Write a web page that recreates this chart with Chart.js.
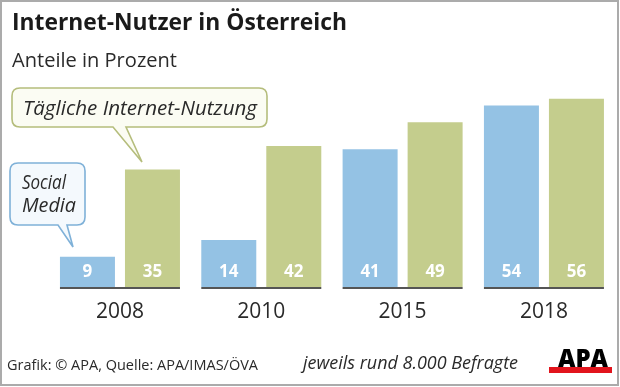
<!DOCTYPE html>
<html>
<head>
<meta charset="utf-8">
<script src="https://cdn.jsdelivr.net/npm/chart.js@4.4.1/dist/chart.umd.min.js"></script>
<style>
  html, body { margin: 0; padding: 0; background: #fff; }
  #frame { position: relative; width: 620px; height: 387px; overflow: hidden; font-family: 'Open Sans', sans-serif; color: #2a2a2a; }
  #frame::after { content: ''; position: absolute; left: 0; top: 0; width: 619px; height: 386px; box-sizing: border-box; border: 2px solid #ababab; pointer-events: none; }
  canvas { position: absolute; left: 0; top: 0; }
  svg { position: absolute; left: 0; top: 0; }
  .t { position: absolute; white-space: nowrap; line-height: 1; transform-origin: 0 0; }
  #title { left: 12px; top: 10.2px; font-size: 23px; font-weight: 700; color: #1a1a1a; }
  #subtitle { left: 12px; top: 49.7px; font-size: 19.5px; }
  #calloutDaily { left: 23px; top: 97.7px; font-size: 19.5px; font-style: italic; }
  #calloutSocial1 { left: 22px; top: 172.2px; font-size: 20px; font-style: italic; }
  #calloutSocial2 { left: 22px; top: 195.2px; font-size: 20px; font-style: italic; }
  #source { left: 7px; top: 357.6px; font-size: 14px; }
  #note { left: 303px; top: 353.3px; font-size: 18px; font-style: italic; }
  #logo { left: 558px; top: 344.5px; font-size: 25px; font-weight: 800; color: #000; }
  #logoBar { position: absolute; left: 549px; top: 367px; width: 63px; height: 5.5px; background: #e2141c; }
</style>
</head>
<body>
<div id="frame">
  <canvas id="chart" width="620" height="387"></canvas>
  <svg width="620" height="387">
    <path d="M20,88 H259 Q267,88 267,96 V119 Q267,127 259,127 H126 L142,162 L113,127 H20 Q12,127 12,119 V96 Q12,88 20,88 Z"
          fill="#fbfcf3" stroke="#b5bd7c" stroke-width="1.6"/>
    <path d="M18,163 H77 Q85,163 85,171 V217 Q85,225 77,225 H67 L73,247 L58,225 H18 Q10,225 10,217 V171 Q10,163 18,163 Z"
          fill="#f4f9fd" stroke="#7fb1d8" stroke-width="1.6"/>
  </svg>
  <div class="t" id="title" data-w="335">Internet-Nutzer in Österreich</div>
  <div class="t" id="subtitle" data-w="165">Anteile in Prozent</div>
  <div class="t" id="calloutDaily" data-w="234">Tägliche Internet-Nutzung</div>
  <div class="t" id="calloutSocial1" data-w="44">Social</div>
  <div class="t" id="calloutSocial2" data-w="54">Media</div>
  <div class="t" id="source" data-w="251">Grafik: © APA, Quelle: APA/IMAS/ÖVA</div>
  <div class="t" id="note" data-w="215">jeweils rund 8.000 Befragte</div>
  <div id="logoBar"></div>
  <div class="t" id="logo" data-w="50">APA</div>
</div>
<script>
const years = ['2008', '2010', '2015', '2018'];
const socialMedia = [9, 14, 41, 54];
const dailyInternet = [35, 42, 49, 56];

const fontFamily = "'Open Sans', sans-serif";

// squeeze text to the width it has in the original graphic
function fitTexts() {
    document.querySelectorAll('.t[data-w]').forEach(el => {
        const target = parseFloat(el.dataset.w);
        const w = el.getBoundingClientRect().width;
        if (w > 0) {
            el.style.transform = `scaleX(${target / w})`;
        }
    });
}

// white value labels at the foot of every bar
const valueLabels = {
    id: 'valueLabels',
    afterDatasetsDraw(chart) {
        const ctx = chart.ctx;
        const zero = chart.scales.y.getPixelForValue(0);
        ctx.save();
        ctx.fillStyle = '#ffffff';
        ctx.font = `700 17px ${fontFamily}`;
        ctx.textAlign = 'center';
        ctx.textBaseline = 'alphabetic';
        chart.data.datasets.forEach((ds, di) => {
            chart.getDatasetMeta(di).data.forEach((bar, i) => {
                ctx.fillText(String(ds.data[i]), bar.x, zero - 9.7);
            });
        });
        ctx.restore();
    }
};

// dark base line under each pair of bars
const pairBaseline = {
    id: 'pairBaseline',
    afterDatasetsDraw(chart) {
        const ctx = chart.ctx;
        const zero = chart.scales.y.getPixelForValue(0);
        const first = chart.getDatasetMeta(0).data;
        const last = chart.getDatasetMeta(chart.data.datasets.length - 1).data;
        ctx.save();
        ctx.fillStyle = '#555555';
        first.forEach((bar, i) => {
            const x0 = bar.x - bar.width / 2;
            const x1 = last[i].x + last[i].width / 2;
            ctx.fillRect(x0, zero, x1 - x0, 2);
        });
        ctx.restore();
    }
};

function drawChart() {
    const ctx = document.getElementById('chart').getContext('2d');
    window.internetChart = new Chart(ctx, {
        type: 'bar',
        data: {
            labels: years,
            datasets: [{
                label: 'Social Media',
                data: socialMedia,
                backgroundColor: '#94c2e4',
                categoryPercentage: 0.92,
                barPercentage: 0.846
            }, {
                label: 'Tägliche Internet-Nutzung',
                data: dailyInternet,
                backgroundColor: '#c4cd8d',
                categoryPercentage: 0.92,
                barPercentage: 0.846
            }]
        },
        options: {
            responsive: false,
            animation: false,
            devicePixelRatio: 1,
            layout: {
                padding: { left: 49.3, right: 5.4, top: 85.4, bottom: 58.8 }
            },
            plugins: {
                legend: { display: false },
                tooltip: { enabled: false }
            },
            scales: {
                x: {
                    grid: { display: false },
                    border: { display: false },
                    ticks: {
                        color: '#2a2a2a',
                        padding: 4,
                        font: { family: fontFamily, size: 21 }
                    }
                },
                y: {
                    display: false,
                    min: 0,
                    max: 60
                }
            }
        },
        plugins: [pairBaseline, valueLabels]
    });
}

document.addEventListener('DOMContentLoaded', async () => {
    try {
        await Promise.all([
            document.fonts.load(`400 21px ${fontFamily}`),
            document.fonts.load(`700 17px ${fontFamily}`)
        ]);
    } catch (e) {}
    drawChart();
    fitTexts();
});
</script>
</body>
</html>
